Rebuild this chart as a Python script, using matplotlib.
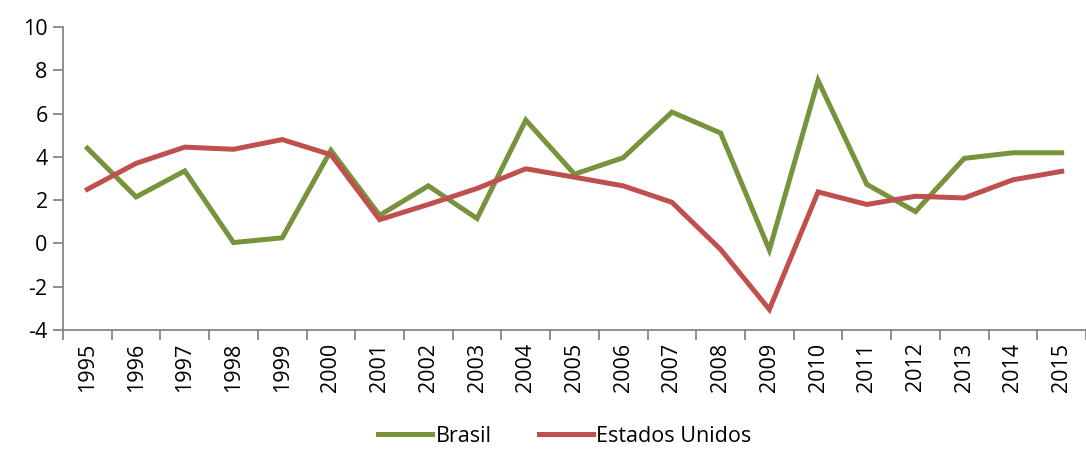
import matplotlib
matplotlib.use("Agg")
import matplotlib.pyplot as plt
import numpy as np

plt.rcParams['font.family'] = ['Open Sans', 'DejaVu Sans']
plt.rcParams['axes.unicode_minus'] = False

years = [str(y) for y in range(1995, 2016)]
brasil = [4.4, 2.15, 3.35, 0.04, 0.26, 4.3, 1.3, 2.66, 1.15, 5.7, 3.2,
          3.96, 6.07, 5.1, -0.3, 7.53, 2.73, 1.47, 3.93, 4.19, 4.19]
eua = [2.5, 3.7, 4.45, 4.35, 4.8, 4.1, 1.1, 1.8, 2.54, 3.45, 3.06,
       2.66, 1.9, -0.28, -3.05, 2.38, 1.8, 2.18, 2.1, 2.94, 3.33]

green = '#77933C'
red = '#C0504D'
axis_grey = '#868686'

fig = plt.figure(figsize=(10.86, 4.5), dpi=100)
ax = fig.add_axes([63 / 1086, 1 - 330 / 450, 1 - 63 / 1086, (330 - 27) / 450])

x = np.arange(len(years))
ax.plot(x, brasil, color=green, lw=3.6, solid_joinstyle='miter', label='Brasil')
ax.plot(x, eua, color=red, lw=3.6, solid_joinstyle='miter', label='Estados Unidos')

ax.set_ylim(-4, 10)
ax.set_yticks(range(-4, 11, 2))
ax.set_xlim(-0.5, len(years) - 0.5)
ax.set_xticks(x)
ax.set_xticklabels(years, rotation=90)
ax.set_xticks(np.arange(-0.5, len(years)), minor=True)
ax.tick_params(axis='x', which='major', length=0, pad=9, labelsize=15.5)
ax.tick_params(axis='x', which='minor', length=7, color=axis_grey, width=1.3)
ax.tick_params(axis='y', length=7, color=axis_grey, width=1.3, labelsize=15.5, pad=4)

for side in ['top', 'right']:
    ax.spines[side].set_visible(False)
for side in ['left', 'bottom']:
    ax.spines[side].set_color(axis_grey)
    ax.spines[side].set_linewidth(1.3)

fig.legend(loc='center', bbox_to_anchor=(0.52, 0.03), ncol=2, frameon=False,
           fontsize=15.5, handlelength=2.5, handletextpad=0.15, columnspacing=2.2)

fig.savefig('out.png', dpi=100)
